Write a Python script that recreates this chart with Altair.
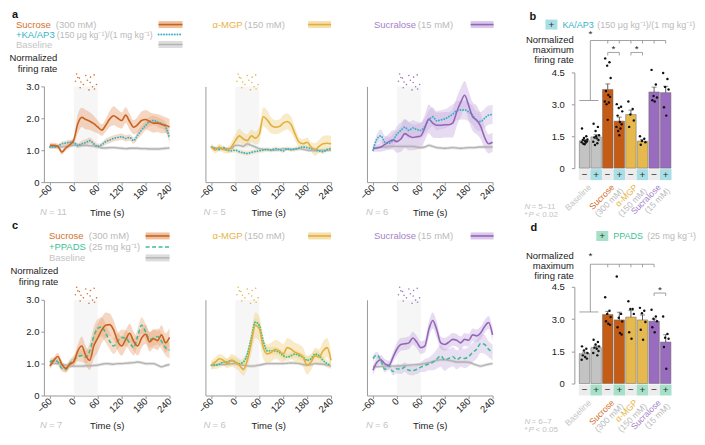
import altair as alt
import pandas as pd

FONT = "Liberation Sans"
H = 96
PW = 126
XDOM = [-75, 240]
LBL = "datum.value == 0 ? '0' : format(datum.value, '.1f')"

T = list(range(-60, 241, 10))

# ---- time courses (normalized firing rate) ----
a1_suc = [1.15,1.15,1.12,0.94,1.07,1.17,1.32,1.83,2.03,1.96,1.91,1.83,1.73,1.63,1.78,1.98,2.08,2.0,1.93,2.1,1.9,1.72,1.8,1.93,1.96,1.9,1.85,1.85,1.81,1.78,1.73]
a1_suc_sem = [0.08,0.08,0.08,0.08,0.08,0.1,0.12,0.3,0.3,0.3,0.28,0.25,0.2,0.18,0.2,0.25,0.3,0.28,0.25,0.25,0.25,0.22,0.25,0.28,0.3,0.3,0.3,0.28,0.28,0.25,0.25]
a1_ka = [1.1,1.1,1.12,1.2,1.22,1.25,1.24,1.14,1.2,1.24,1.3,1.2,1.12,1.17,1.27,1.32,1.37,1.4,1.42,1.37,1.4,1.3,1.47,1.63,1.78,1.9,1.93,1.88,1.83,1.73,1.37]
a1_ka_sem = [0.06,0.06,0.06,0.07,0.08,0.08,0.08,0.08,0.1,0.1,0.1,0.1,0.08,0.08,0.1,0.1,0.1,0.1,0.1,0.1,0.1,0.1,0.12,0.15,0.15,0.15,0.15,0.15,0.15,0.15,0.15]
a1_base = [1.12,1.12,1.1,1.1,1.12,1.14,1.15,1.16,1.15,1.15,1.14,1.13,1.12,1.07,1.07,1.08,1.08,1.07,1.06,1.05,1.06,1.06,1.06,1.05,1.05,1.04,1.04,1.04,1.05,1.06,1.07]

a2_mgp = [1.12,1.0,1.1,1.02,1.0,1.1,1.3,1.45,1.35,1.3,1.45,1.38,1.5,2.05,1.95,1.78,1.72,1.74,1.85,1.9,1.8,1.5,1.25,1.2,1.25,1.1,1.02,1.12,1.2,1.22,1.2]
a2_mgp_sem = [0.1,0.1,0.1,0.1,0.1,0.15,0.2,0.22,0.2,0.2,0.2,0.2,0.25,0.3,0.3,0.25,0.22,0.22,0.25,0.25,0.25,0.2,0.15,0.15,0.15,0.15,0.2,0.2,0.25,0.25,0.25]
a2_ka = [1.1,1.05,1.02,1.08,1.0,0.98,1.0,0.95,0.92,0.9,0.93,0.96,0.98,1.0,1.02,1.0,1.05,1.02,0.98,1.05,1.02,1.04,1.07,1.1,1.08,1.05,1.02,0.98,0.95,1.02,1.05]
a2_ka_sem = 0.07
a2_base = [1.08,1.06,1.05,1.05,1.05,1.05,1.15,1.15,1.12,1.2,1.15,1.1,1.05,1.03,1.02,1.01,1.0,1.02,1.05,1.03,1.02,1.03,1.05,1.03,1.0,0.99,0.98,0.99,1.0,1.0,1.0]

a3_scl = [1.05,1.07,1.1,1.18,1.27,1.32,1.27,1.35,1.52,1.45,1.4,1.42,1.45,1.7,1.98,1.85,1.78,1.78,1.8,1.8,1.85,2.2,2.5,2.72,2.4,2.05,1.95,1.75,1.4,1.2,1.25]
a3_scl_sem = [0.1,0.12,0.15,0.2,0.25,0.3,0.35,0.4,0.45,0.45,0.4,0.4,0.4,0.4,0.45,0.45,0.4,0.4,0.4,0.4,0.45,0.45,0.45,0.45,0.45,0.45,0.45,0.4,0.35,0.3,0.3]
a3_ka = [1.0,1.35,1.45,1.25,1.22,1.3,1.5,1.62,1.72,1.62,1.7,1.65,1.62,1.75,1.95,2.05,1.92,1.95,1.98,2.05,2.13,2.24,2.26,2.26,2.2,2.1,1.92,1.9,2.0,2.1,2.12]
a3_ka_sem = [0.1,0.15,0.2,0.2,0.2,0.2,0.25,0.25,0.25,0.25,0.25,0.25,0.25,0.25,0.3,0.3,0.3,0.3,0.3,0.3,0.3,0.3,0.3,0.3,0.3,0.3,0.3,0.3,0.3,0.3,0.3]
a3_base = [1.05,1.08,1.1,1.1,1.12,1.12,1.12,1.12,1.12,1.12,1.12,1.1,1.08,1.1,1.15,1.12,1.08,1.07,1.06,1.07,1.08,1.07,1.06,1.07,1.08,1.08,1.09,1.1,1.1,1.1,1.1]

c1_suc = [0.92,1.1,1.22,0.98,0.85,0.98,1.06,1.4,1.55,1.25,1.1,1.55,1.8,2.05,2.2,2.22,2.05,1.7,1.55,1.75,1.95,1.7,1.55,1.8,1.92,1.68,1.78,1.72,1.9,1.65,1.82]
c1_suc_sem = [0.1,0.1,0.12,0.12,0.12,0.12,0.15,0.2,0.3,0.3,0.3,0.4,0.45,0.4,0.4,0.35,0.3,0.3,0.3,0.3,0.3,0.3,0.3,0.3,0.3,0.3,0.3,0.3,0.3,0.3,0.3]
c1_pp = [1.05,1.1,1.05,0.85,0.82,1.0,1.1,1.22,1.25,1.2,1.4,1.85,2.1,2.15,1.95,1.7,1.55,1.7,1.82,1.8,1.65,1.5,1.85,2.2,2.0,1.75,1.8,1.85,1.7,1.5,1.42]
c1_pp_sem = [0.1,0.1,0.1,0.1,0.1,0.12,0.15,0.15,0.2,0.2,0.25,0.3,0.3,0.3,0.3,0.25,0.25,0.25,0.25,0.25,0.25,0.25,0.25,0.25,0.25,0.25,0.25,0.25,0.25,0.25,0.25]
c1_base = [1.0,1.0,1.0,0.97,0.95,0.93,0.92,0.92,0.92,0.93,0.93,0.94,0.95,0.98,1.0,0.99,0.98,1.0,1.0,1.01,1.02,1.03,1.05,1.03,1.0,1.0,1.0,0.95,0.9,0.94,0.97]

c2_mgp = [0.95,1.05,1.15,1.1,1.0,1.1,1.05,0.95,0.82,1.1,1.65,2.2,2.1,1.5,1.3,1.35,1.45,1.4,1.3,1.5,1.45,1.35,1.3,1.2,0.95,1.05,1.25,1.2,1.4,1.5,1.1]
c2_mgp_sem = [0.15,0.15,0.15,0.15,0.15,0.2,0.2,0.2,0.2,0.25,0.35,0.4,0.4,0.35,0.3,0.3,0.3,0.3,0.3,0.3,0.3,0.3,0.3,0.3,0.3,0.25,0.25,0.25,0.3,0.3,0.25]
c2_pp = [0.95,0.95,0.98,1.05,1.05,1.1,1.05,1.0,1.05,1.3,1.8,2.3,2.2,1.7,1.4,1.4,1.4,1.35,1.25,1.2,1.25,1.3,1.25,1.2,1.1,1.15,1.3,1.25,1.1,1.0,0.95]
c2_pp_sem = 0.12
c2_base = [0.95,0.96,0.97,0.97,0.98,0.99,1.0,0.97,0.95,0.93,0.92,0.93,0.95,0.98,1.0,1.0,1.0,1.0,1.0,1.01,1.02,1.01,1.0,0.97,0.95,0.97,1.0,0.99,0.98,0.95,0.92]

c3_scl = [0.79,1.04,1.12,0.99,0.94,1.19,1.45,1.6,1.62,1.65,1.8,1.67,1.5,1.55,2.06,2.35,2.06,1.65,1.6,1.67,1.76,1.73,1.65,1.76,1.73,1.9,1.87,1.96,2.16,2.29,1.9]
c3_scl_sem = [0.15,0.15,0.15,0.15,0.15,0.15,0.2,0.2,0.2,0.2,0.2,0.2,0.2,0.2,0.25,0.25,0.25,0.2,0.2,0.2,0.2,0.2,0.2,0.2,0.2,0.2,0.2,0.2,0.2,0.2,0.2]
c3_pp = [1.16,1.27,1.09,0.82,0.94,0.75,0.84,0.82,0.89,0.79,0.78,0.82,0.89,0.94,0.99,1.04,1.14,1.24,1.12,1.16,1.22,1.12,1.19,1.16,1.22,1.35,1.45,1.63,1.6,1.45,1.35]
c3_pp_sem = [0.1,0.1,0.1,0.1,0.1,0.12,0.15,0.15,0.15,0.15,0.15,0.15,0.15,0.2,0.2,0.25,0.3,0.35,0.35,0.3,0.3,0.3,0.3,0.3,0.3,0.3,0.3,0.3,0.3,0.25,0.25]
c3_base = [0.9,0.9,0.91,0.92,0.92,0.92,0.92,0.93,0.94,0.95,0.96,0.97,0.98,1.0,1.03,1.06,1.1,1.12,1.12,1.1,1.08,1.05,1.05,1.05,1.04,1.0,0.95,0.92,0.95,0.98,1.0]
BASE_SEM = 0.05

# sugar-granule icon (time, value)
sugar_t = [7,14,4,18,30,42,34,51,24,41,57,16,47,52,38,10]
sugar_v = [3.39,3.26,3.16,3.14,3.34,3.29,3.19,3.36,3.06,3.12,3.06,2.96,2.99,2.92,2.89,3.28]

# ---- bar panels ----
b_means = [1.29,1.47,3.7,2.21,2.52,1.27,3.58,3.55]
b_sems = [0.05,0.1,0.26,0.19,0.21,0.07,0.23,0.3]
b_dots = [
    [1.86,1.5,1.42,1.35,1.32,1.28,1.25,1.22,1.2,1.15,1.12],
    [2.09,1.94,1.75,1.55,1.44,1.4,1.32,1.24,1.17,1.09,1.5],
    [5.16,4.98,4.82,4.24,3.63,3.44,3.35,3.13,3.09,3.01,2.27],
    [3.01,2.89,2.83,2.67,2.47,2.17,2.06,1.94,1.86,1.75,1.55],
    [3.13,2.78,2.52,2.24,1.94],
    [1.5,1.38,1.28,1.22,1.1],
    [4.62,3.93,3.39,3.32,3.19,3.13],
    [4.47,4.19,3.82,3.7,2.86,2.47],
]
d_means = [1.39,1.67,3.21,2.96,3.09,2.96,2.9,1.93]
d_sems = [0.07,0.08,0.15,0.36,0.3,0.23,0.1,0.34]
d_dots = [
    [1.73,1.62,1.54,1.42,1.31,1.23,1.16,1.11],
    [2.04,1.93,1.82,1.73,1.67,1.62,1.51,1.42,1.31],
    [4.01,3.39,3.24,3.09,2.9,2.78,2.73],
    [4.98,3.24,3.06,2.89,2.62,2.35,2.28],
    [3.83,3.47,3.47,3.24,2.39,2.08],
    [3.52,3.39,3.27,2.86,2.5,2.04],
    [3.43,3.12,3.01,2.9,2.62,2.39],
    [3.12,2.31,2.13,2.08,1.7,0.69],
]
POS = [0,1,2,3,4,5,6,7]
SYMS = ["\u2212","+","\u2212","+","\u2212","+","\u2212","+"]
GROUP_POS = [0.5,2.5,4.5,6.5]
GROUP_NAMES = ["Baseline","Sucrose","\u03b1-MGP","Sucralose"]
GROUP_CONC = ["","(300 mM)","(150 mM)","(15 mM)"]
JIT = [-0.22,0.15,-0.05,0.25,-0.15,0.05,0.2,-0.25,0.1,-0.1,0.0,0.18]

# ---- colours ----
SUC, SUC_BAND, SUC_TXT = "#c9621c", "#e8a577", "#d4702a"
MGP, MGP_BAND, MGP_TXT = "#e3ae3c", "#f0d28a", "#e8b445"
SCL, SCL_BAND, SCL_TXT = "#9466bb", "#c9b0e0", "#a583c8"
BASE, BASE_BAND, BASE_TXT = "#b3b3b3", "#d3d3d3", "#c4c4c4"
TEAL, GREEN = "#36b3c7", "#3dbf93"
GRAY_TXT = "#bababa"
BAR_COLS = ["#c3c3c3","#c3c3c3","#c45c16","#c45c16","#e6b94e","#e6b94e","#9a6cbf","#9a6cbf"]

ONE = pd.DataFrame({"k": [0]})


def txt(s, x, y, color="#222222", size=9.5, align="left", baseline="middle", style="normal", weight="normal"):
    return alt.Chart(ONE).mark_text(text=s, align=align, baseline=baseline, font=FONT, fontSize=size,
                                    color=color, fontStyle=style, fontWeight=weight).encode(
        x=alt.value(x), y=alt.value(y))


def prule(x1, x2, y, color, width, dash=None, cap="butt"):
    kw = dict(color=color, strokeWidth=width, strokeCap=cap)
    if dash:
        kw["strokeDash"] = dash
    return alt.Chart(ONE).mark_rule(**kw).encode(x=alt.value(x1), x2=alt.value(x2), y=alt.value(y))


def prect(x1, x2, y1, y2, color, opacity=1.0):
    return alt.Chart(ONE).mark_rect(color=color, opacity=opacity).encode(
        x=alt.value(x1), x2=alt.value(x2), y=alt.value(y1), y2=alt.value(y2))


def series_df(vals, sem):
    if not isinstance(sem, list):
        sem = [sem] * len(vals)
    return pd.DataFrame({"t": T, "val": vals,
                         "lo": [v - s for v, s in zip(vals, sem)],
                         "hi": [v + s for v, s in zip(vals, sem)]})


def line_panel(p):
    xs = alt.Scale(domain=XDOM, range=[0, PW], nice=False, zero=False)
    ys = alt.Scale(domain=[0, 3], nice=False)
    xaxis = alt.Axis(values=[-60, 0, 60, 120, 180, 240], labelAngle=315, labelAlign="right",
                     labelBaseline="middle", labelPadding=1, tickSize=3, labelOverlap=False,
                     title="Time (s)", titleY=30, titleBaseline="middle")
    if p["yaxis"]:
        yaxis = alt.Axis(values=[0, 1, 2, 3], labelExpr=LBL, tickSize=3, labelPadding=2,
                         title=["Normalized", "firing rate"], titleAngle=0, titleAlign="right",
                         titleX=p["tx"], titleY=-34, titleBaseline="top", titleLineHeight=11)
    else:
        yaxis = alt.Axis(values=[0, 1, 2, 3], labels=False, ticks=False, title=None)

    def X(f):
        return alt.X(f, scale=xs, axis=xaxis)

    def Y(f):
        return alt.Y(f, scale=ys, axis=yaxis)

    layers = [alt.Chart(pd.DataFrame({"t0": [0], "t1": [60]})).mark_rect(color="#f6f6f6").encode(
        x=X("t0:Q"), x2="t1:Q", y=alt.value(0), y2=alt.value(H))]

    base = series_df(p["base"], BASE_SEM)
    ant = series_df(p["ant"], p["ant_sem"])
    stim = series_df(p["stim"], p["stim_sem"])
    layers.append(alt.Chart(base).mark_area(color=BASE_BAND, opacity=0.6, interpolate="monotone").encode(
        x=X("t:Q"), y=Y("lo:Q"), y2="hi:Q"))
    layers.append(alt.Chart(ant).mark_area(color=p["band"], opacity=0.4, interpolate="monotone").encode(
        x=X("t:Q"), y=Y("lo:Q"), y2="hi:Q"))
    layers.append(alt.Chart(stim).mark_area(color=p["band"], opacity=0.45, interpolate="monotone").encode(
        x=X("t:Q"), y=Y("lo:Q"), y2="hi:Q"))
    layers.append(alt.Chart(base).mark_line(color=BASE, strokeWidth=1.4, interpolate="monotone").encode(
        x=X("t:Q"), y=Y("val:Q")))
    layers.append(alt.Chart(ant).mark_line(color=p["ant_color"], strokeWidth=p["ant_w"], strokeDash=p["ant_dash"],
                                           strokeCap=p["ant_cap"], interpolate="monotone").encode(
        x=X("t:Q"), y=Y("val:Q")))
    layers.append(alt.Chart(stim).mark_line(color=p["color"], strokeWidth=1.6, interpolate="monotone").encode(
        x=X("t:Q"), y=Y("val:Q")))
    layers.append(alt.Chart(pd.DataFrame({"t": sugar_t, "v": sugar_v})).mark_circle(
        color=p["color"], size=2.5, opacity=0.9).encode(x=X("t:Q"), y=Y("v:Q")))

    # legend
    ly = p["ly"]
    nx, cx = p["name_x"], p["conc_x"]
    sx1, sx2 = p["sw"]
    layers.append(txt(p["name"], nx, ly[0], color=p["txt"]))
    layers.append(txt(p["conc"], cx, ly[0], color=GRAY_TXT))
    layers.append(prect(sx1, sx2, ly[0] - 3.5, ly[0] + 3.5, p["band"], 0.7))
    layers.append(prule(sx1, sx2, ly[0], p["color"], 1.6))
    if p["full_legend"]:
        layers.append(txt(p["ant_name"], nx, ly[1], color=p["ant_color"]))
        layers.append(txt(p["ant_conc"], p["ant_conc_x"], ly[1], color=GRAY_TXT, size=p["ant_conc_size"]))
        layers.append(prule(sx1, sx2, ly[1], p["ant_color"], p["ant_w"], p["ant_dash"], p["ant_cap"]))
        layers.append(txt("Baseline", nx, ly[2], color=BASE_TXT))
        layers.append(prect(sx1, sx2, ly[2] - 3.5, ly[2] + 3.5, BASE_BAND, 0.8))
        layers.append(prule(sx1, sx2, ly[2], BASE, 1.4))
    if p["letter"]:
        layers.append(txt(p["letter"], -32, p["letter_y"], size=11, weight="bold", color="#111111"))
    layers.append(txt("N", p["n_x"], H + 30, color=BASE_TXT, style="italic"))
    layers.append(txt("= " + p["n"], p["n_x"] + 9, H + 30, color=BASE_TXT))
    return alt.layer(*layers).properties(width=p["w"], height=H)


def bar_panel(p):
    xs = alt.Scale(domain=[-0.45, 7.55], nice=False, zero=False)
    ys = alt.Scale(domain=[0, 4.5], range=p["yrange"], nice=False, zero=False)
    y0 = p["yrange"][0]
    yaxis = alt.Axis(values=[0, 1.5, 3, 4.5], labelExpr=LBL, tickSize=3, labelPadding=7,
                     title=["Normalized", "maximum", "firing rate"], titleAngle=0, titleAlign="right",
                     titleX=-1, titleY=p["ty"], titleBaseline="top", titleLineHeight=p["tlh"])

    def X(f):
        return alt.X(f, scale=xs, axis=None)

    def Y(f):
        return alt.Y(f, scale=ys, axis=yaxis)

    bars = pd.DataFrame({"pos": POS, "mean": p["means"],
                         "top": [m + s for m, s in zip(p["means"], p["sems"])], "col": BAR_COLS})
    rows = []
    for i, vals in enumerate(p["dots"]):
        for k, v in enumerate(vals):
            rows.append({"xj": i + JIT[k % len(JIT)], "v": v})
    dots = pd.DataFrame(rows)
    boxes = pd.DataFrame({"pos": POS, "x1": [i - 0.5 for i in POS], "x2": [i + 0.5 for i in POS],
                          "sym": SYMS, "fill": ["#ececec", p["box"]] * 4})
    groups = pd.DataFrame({"gx": GROUP_POS, "name": GROUP_NAMES, "conc": GROUP_CONC,
                           "col": [BASE_TXT, SUC_TXT, MGP_TXT, SCL_TXT]})

    layers = [
        alt.Chart(bars).mark_bar(size=10.5, orient="vertical", stroke="#666666", strokeWidth=0.5).encode(
            x=X("pos:Q"), y=Y("mean:Q"), color=alt.Color("col:N", scale=None)),
        alt.Chart(bars).mark_rule(color="#333333", strokeWidth=0.8).encode(
            x=X("pos:Q"), y=Y("mean:Q"), y2="top:Q"),
        alt.Chart(bars).mark_tick(orient="horizontal", size=5, thickness=0.8, color="#333333").encode(
            x=X("pos:Q"), y=Y("top:Q")),
        alt.Chart(dots).mark_circle(size=6, color="#111111", opacity=1).encode(x=X("xj:Q"), y=Y("v:Q")),
        alt.Chart(boxes).mark_rect().encode(x=X("x1:Q"), x2="x2:Q", y=alt.value(y0 + 1), y2=alt.value(y0 + 12),
                                            color=alt.Color("fill:N", scale=None)),
        alt.Chart(boxes).mark_text(font=FONT, fontSize=10, color="#333333").encode(
            x=X("pos:Q"), y=alt.value(y0 + 6.5), text="sym:N"),
        alt.Chart(groups).mark_text(font=FONT, fontSize=8.6, angle=315, align="right", baseline="middle",
                                    dx=-1).encode(
            x=X("gx:Q"), y=alt.value(y0 + 17), text="name:N", color=alt.Color("col:N", scale=None)),
        alt.Chart(groups[groups["conc"] != ""]).mark_text(font=FONT, fontSize=8.6, angle=315, align="right",
                                                          baseline="middle", dx=3, dy=9, color=GRAY_TXT).encode(
            x=X("gx:Q"), y=alt.value(y0 + 17), text="conc:N"),
    ]
    # significance brackets
    hr = pd.DataFrame(p["hr"], columns=["x1", "x2", "y"])
    vr = pd.DataFrame(p["vr"], columns=["x", "y1", "y2"])
    st = pd.DataFrame(p["stars"], columns=["x", "y"])
    layers += [
        alt.Chart(hr).mark_rule(color="#8a8a8a", strokeWidth=0.8).encode(x=X("x1:Q"), x2="x2:Q", y=Y("y:Q")),
        alt.Chart(vr).mark_rule(color="#8a8a8a", strokeWidth=0.8).encode(x=X("x:Q"), y=Y("y1:Q"), y2="y2:Q"),
        alt.Chart(st).mark_text(text="*", font=FONT, fontSize=10, color="#222222").encode(x=X("x:Q"), y=Y("y:Q")),
    ]
    # legend
    bx, ly = p["box_x"], p["ly"]
    layers += [
        prect(bx, bx + 12, ly - 5, ly + 5, p["box"]),
        txt("+", bx + 6, ly, color="#333333", size=10, align="center"),
        txt(p["leg_name"], bx + 17, ly, color=p["leg_color"], size=9),
        txt(p["leg_conc"], p["leg_conc_x"], ly, color=GRAY_TXT, size=9),
        txt(p["letter"], p["letter_x"], p["letter_y"], size=11, weight="bold", color="#111111"),
        txt("N", -50, y0 + 39, color=BASE_TXT, size=8, style="italic"),
        txt("= " + p["n"], -43, y0 + 39, color=BASE_TXT, size=8),
        txt("*", -50, y0 + 47, color=BASE_TXT, size=8),
        txt("P", -46, y0 + 47, color=BASE_TXT, size=8, style="italic"),
        txt(p["p"], -39, y0 + 47, color=BASE_TXT, size=8),
    ]
    return alt.layer(*layers).properties(width=103, height=H)


KA_CONC = "(150 \u03bcg kg\u207b\u00b9)/(1 mg kg\u207b\u00b9)"
KA = dict(ant_color=TEAL, ant_w=1.9, ant_dash=[0.1, 2.6], ant_cap="round",
          ant_name="+KA/AP3", ant_conc=KA_CONC, ant_conc_size=8.8)
PP_DASH = dict(ant_color=GREEN, ant_w=1.6, ant_dash=[4, 2.5], ant_cap="butt",
               ant_name="+PPADS", ant_conc="(25 mg kg\u207b\u00b9)", ant_conc_size=9.5)
PP_DOT = dict(ant_color=GREEN, ant_w=1.9, ant_dash=[0.1, 2.6], ant_cap="round",
              ant_name="+PPADS", ant_conc="(25 mg kg\u207b\u00b9)", ant_conc_size=9.5)

SUC_S = dict(name="Sucrose", conc="(300 mM)", color=SUC, band=SUC_BAND, txt=SUC_TXT)
MGP_S = dict(name="\u03b1-MGP", conc="(150 mM)", color=MGP, band=MGP_BAND, txt=MGP_TXT)
SCL_S = dict(name="Sucralose", conc="(15 mM)", color=SCL, band=SCL_BAND, txt=SCL_TXT)

ROW_A_Y = [-62, -52, -42]
ROW_C_Y = [-64, -53, -42]

a1 = line_panel(dict(SUC_S, **KA, stim=a1_suc, stim_sem=a1_suc_sem, ant=a1_ka, ant_sem=a1_ka_sem, base=a1_base,
                     yaxis=True, tx=13, w=PW, ly=ROW_A_Y, name_x=-28, conc_x=12, ant_conc_x=13, sw=(115, 139),
                     full_legend=True, letter="a", letter_y=-72, n_x=-4, n="11"))
a2 = line_panel(dict(MGP_S, **KA, stim=a2_mgp, stim_sem=a2_mgp_sem, ant=a2_ka, ant_sem=a2_ka_sem, base=a2_base,
                     yaxis=False, tx=0, w=PW, ly=ROW_A_Y, name_x=7, conc_x=39, ant_conc_x=0, sw=(103, 126),
                     full_legend=False, letter=None, letter_y=0, n_x=-2, n="5"))
a3 = line_panel(dict(SCL_S, **KA, stim=a3_scl, stim_sem=a3_scl_sem, ant=a3_ka, ant_sem=a3_ka_sem, base=a3_base,
                     yaxis=False, tx=0, w=172, ly=ROW_A_Y, name_x=7, conc_x=51, ant_conc_x=0, sw=(104, 127),
                     full_legend=False, letter=None, letter_y=0, n_x=-1, n="6"))
c1 = line_panel(dict(SUC_S, **PP_DASH, stim=c1_suc, stim_sem=c1_suc_sem, ant=c1_pp, ant_sem=c1_pp_sem, base=c1_base,
                     yaxis=True, tx=14, w=PW, ly=ROW_C_Y, name_x=5, conc_x=45, ant_conc_x=45, sw=(102, 126),
                     full_legend=True, letter="c", letter_y=-74, n_x=-4, n="7"))
c2 = line_panel(dict(MGP_S, **PP_DOT, stim=c2_mgp, stim_sem=c2_mgp_sem, ant=c2_pp, ant_sem=c2_pp_sem, base=c2_base,
                     yaxis=False, tx=0, w=PW, ly=ROW_C_Y, name_x=7, conc_x=39, ant_conc_x=0, sw=(103, 126),
                     full_legend=False, letter=None, letter_y=0, n_x=-2, n="6"))
c3 = line_panel(dict(SCL_S, **PP_DASH, stim=c3_scl, stim_sem=c3_scl_sem, ant=c3_pp, ant_sem=c3_pp_sem, base=c3_base,
                     yaxis=False, tx=0, w=172, ly=ROW_C_Y, name_x=7, conc_x=51, ant_conc_x=0, sw=(104, 127),
                     full_legend=False, letter=None, letter_y=0, n_x=-1, n="6"))

b = bar_panel(dict(means=b_means, sems=b_sems, dots=b_dots, yrange=[82, -14], ty=-52, tlh=10,
                   box="#a8dee6", box_x=-29, ly=-62, leg_name="KA/AP3", leg_color=TEAL,
                   leg_conc=KA_CONC, leg_conc_x=23,
                   letter="b", letter_x=-45, letter_y=-70, n="5\u201311", p="< 0.02",
                   hr=[[0.5, 7, 6.0], [2, 3, 5.44], [4, 5, 5.44], [-0.45, 1.2, 3.18]],
                   vr=[[0.5, 6.0, 3.18], [2, 6.0, 5.86], [3, 6.0, 5.86], [4, 6.0, 5.86], [5, 6.0, 5.86],
                       [6, 6.0, 5.86], [7, 6.0, 5.86], [2, 5.44, 5.3], [3, 5.44, 5.3], [4, 5.44, 5.3],
                       [5, 5.44, 5.3]],
                   stars=[[0.5, 6.3], [2.5, 5.58], [4.5, 5.58]]))
d = bar_panel(dict(means=d_means, sems=d_sems, dots=d_dots, yrange=[84, -13], ty=-49, tlh=9.6,
                   box="#a6e0c9", box_x=22, ly=-64, leg_name="PPADS", leg_color=GREEN,
                   leg_conc="(25 mg kg\u207b\u00b9)", leg_conc_x=73,
                   letter="d", letter_x=-44, letter_y=-72, n="6\u20137", p="< 0.05",
                   hr=[[0.5, 6, 5.55], [6, 7, 4.21], [-0.45, 1.2, 3.33]],
                   vr=[[0.5, 5.55, 3.33], [2, 5.55, 5.41], [3, 5.55, 5.41], [4, 5.55, 5.41], [5, 5.55, 5.41],
                       [6, 5.55, 5.41], [6, 4.21, 4.07], [7, 4.21, 4.07]],
                   stars=[[0.5, 5.95], [6.5, 4.36]]))

chart = alt.concat(a1, a2, a3, b, c1, c2, c3, d, columns=4,
                   spacing={"row": 118, "column": 36}, bounds="flush").properties(
    padding={"left": 0, "top": 0, "right": 0, "bottom": 0}
).configure(font=FONT).configure_view(stroke=None).configure_axis(
    domainColor="#9a9a9a", tickColor="#9a9a9a", labelColor="#222222", titleColor="#222222",
    labelFont=FONT, titleFont=FONT, labelFontSize=9.5, titleFontSize=9.5, titleFontWeight="normal",
    grid=False, domainWidth=1, tickWidth=1)

chart.save("out.html", embed_options={"renderer": "svg", "actions": False})
